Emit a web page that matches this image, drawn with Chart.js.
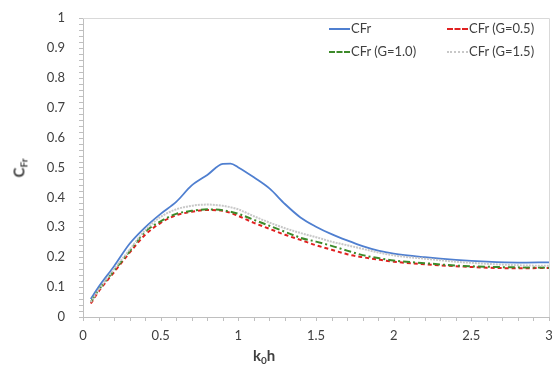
<!DOCTYPE html>
<html>
<head>
<meta charset="utf-8">
<script src="https://cdn.jsdelivr.net/npm/chart.js@4/dist/chart.umd.min.js"></script>
<style>
  html, body { margin: 0; padding: 0; background: #fff; }
  #wrap { position: relative; width: 560px; height: 371px; font-family: Lato, "Open Sans", sans-serif; color: #404040; }
  #chart { position: absolute; left: 0; top: 0; }
  .ytitle { position: absolute; left: 10px; top: 158px; font-weight: bold; font-size: 15px; transform: rotate(-90deg); transform-origin: center; }
  .xtitle { position: absolute; left: 253px; top: 346px; font-weight: bold; font-size: 15px; }
  sub { font-size: 10px; vertical-align: -3px; }
  .legend { position: absolute; font-size: 13px; }
  .legend .item { position: absolute; white-space: nowrap; }
  .legend .swatch { position: absolute; top: 8px; width: 21px; height: 0; }
</style>
</head>
<body>
<div id="wrap">
  <canvas id="chart" width="560" height="371"></canvas>
  <div class="ytitle">C<sub>Fr</sub></div>
  <div class="xtitle">k<sub>0</sub>h</div>
  <div class="legend" id="legend"></div>
</div>
<script>
// k0h values
const kh = [0.05, 0.1, 0.2, 0.3, 0.4, 0.5, 0.6, 0.7, 0.8, 0.9, 0.95, 1.0, 1.1, 1.2, 1.3, 1.4, 1.5, 1.6, 1.7, 1.8, 1.9, 2.0, 2.2, 2.4, 2.6, 2.8, 3.0];

const cfr    = [0.06, 0.10, 0.17, 0.245, 0.30, 0.345, 0.385, 0.44, 0.475, 0.512, 0.513, 0.50, 0.467, 0.43, 0.378, 0.333, 0.302, 0.277, 0.256, 0.237, 0.222, 0.212, 0.200, 0.191, 0.185, 0.182, 0.183];
const cfrG05 = [0.045, 0.085, 0.15, 0.215, 0.275, 0.315, 0.34, 0.352, 0.358, 0.355, 0.348, 0.338, 0.315, 0.295, 0.275, 0.258, 0.24, 0.225, 0.21, 0.2, 0.192, 0.185, 0.176, 0.17, 0.165, 0.163, 0.164];
const cfrG10 = [0.05, 0.09, 0.155, 0.22, 0.285, 0.32, 0.345, 0.355, 0.36, 0.357, 0.352, 0.345, 0.325, 0.305, 0.285, 0.265, 0.252, 0.238, 0.222, 0.207, 0.197, 0.189, 0.18, 0.172, 0.168, 0.166, 0.165];
const cfrG15 = [0.05, 0.09, 0.16, 0.225, 0.29, 0.335, 0.36, 0.372, 0.376, 0.372, 0.367, 0.36, 0.337, 0.316, 0.297, 0.281, 0.267, 0.252, 0.24, 0.228, 0.216, 0.206, 0.195, 0.185, 0.178, 0.173, 0.171];

const seriesNames = ["CFr", "CFr (G=0.5)", "CFr (G=1.0)", "CFr (G=1.5)"];
const seriesColors = ["#4f7fd0", "#e02020", "#3d8a2a", "#c8c8c8"];
const seriesDash = [[], [4, 3], [7, 3, 2, 3], [2, 1]];

function toPoints(ys) {
  return kh.map((x, i) => ({ x: x, y: ys[i] }));
}

const allSeries = [cfr, cfrG05, cfrG10, cfrG15];
// draw order: gray at back, blue on top
const order = [3, 2, 1, 0];

const datasets = allSeries.map((ys, i) => ({
  label: seriesNames[i],
  data: toPoints(ys),
  borderColor: seriesColors[i],
  borderWidth: i === 0 ? 1.8 : 2,
  borderDash: seriesDash[i],
  pointRadius: 0,
  tension: 0.4,
  cubicInterpolationMode: "monotone",
  order: order[i],
}));

// minor ticks + frame
const minorTicks = {
  id: "minorTicks",
  afterDraw(chart) {
    const { ctx, chartArea, scales } = chart;
    ctx.save();
    ctx.strokeStyle = "#d9d9d9";
    ctx.lineWidth = 1;
    ctx.beginPath();
    ctx.moveTo(chartArea.left, chartArea.top + 0.5);
    ctx.lineTo(chartArea.right + 0.5, chartArea.top + 0.5);
    ctx.lineTo(chartArea.right + 0.5, chartArea.bottom);
    ctx.stroke();

    ctx.strokeStyle = "#bfbfbf";
    ctx.beginPath();
    for (let v = 0; v <= 1.0001; v += 0.02) {
      const y = Math.round(scales.y.getPixelForValue(v)) + 0.5;
      ctx.moveTo(chartArea.left - 4, y);
      ctx.lineTo(chartArea.left, y);
    }
    for (let v = 0; v <= 3.0001; v += 0.1) {
      const x = Math.round(scales.x.getPixelForValue(v)) + 0.5;
      ctx.moveTo(x, chartArea.bottom);
      ctx.lineTo(x, chartArea.bottom + 4);
    }
    ctx.stroke();
    ctx.restore();
  },
};

const tickFont = { family: "Lato, 'Open Sans', sans-serif", size: 13 };
const fmt = (v) => String(Math.round(v * 10) / 10);

new Chart(document.getElementById("chart"), {
  type: "line",
  data: { datasets: datasets },
  options: {
    responsive: false,
    animation: false,
    layout: { padding: { top: 18, right: 11, left: 0, bottom: 0 } },
    plugins: { legend: { display: false }, tooltip: { enabled: false } },
    scales: {
      x: {
        type: "linear",
        min: 0,
        max: 3,
        grid: { display: false, drawTicks: true, tickLength: 5 },
        border: { color: "#bfbfbf" },
        ticks: { stepSize: 0.5, color: "#404040", font: tickFont, padding: 6, callback: fmt },
        afterFit(scale) { scale.height = 54; },
      },
      y: {
        min: 0,
        max: 1,
        grid: { display: false },
        border: { color: "#bfbfbf" },
        ticks: { stepSize: 0.1, color: "#404040", font: tickFont, padding: 10, callback: fmt },
        afterFit(scale) { scale.width = 83; },
      },
    },
  },
  plugins: [minorTicks],
});

// legend, two columns at top right
const legendPos = [[329, 20], [447, 20], [329, 43], [447, 43]];
const legendEl = document.getElementById("legend");
seriesNames.forEach((name, i) => {
  const item = document.createElement("div");
  item.className = "item";
  item.style.left = legendPos[i][0] + "px";
  item.style.top = legendPos[i][1] + "px";
  const sw = document.createElement("span");
  sw.className = "swatch";
  const style = i === 0 ? "solid" : (i === 3 ? "dotted" : "dashed");
  sw.style.borderTop = "2px " + style + " " + seriesColors[i];
  item.appendChild(sw);
  const txt = document.createElement("span");
  txt.style.marginLeft = "22px";
  txt.textContent = name;
  item.appendChild(txt);
  legendEl.appendChild(item);
});
</script>
</body>
</html>
